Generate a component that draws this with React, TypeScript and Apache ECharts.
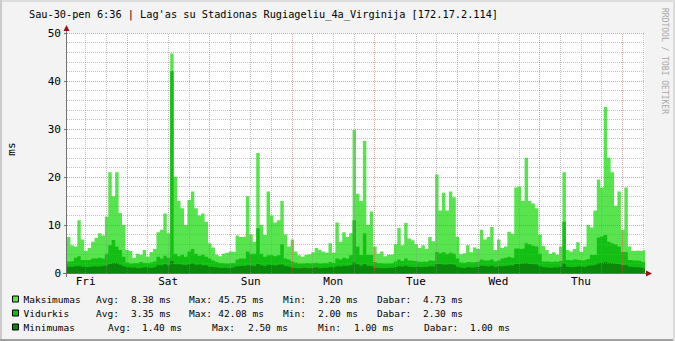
import React, { useEffect, useRef } from "react";
import * as echarts from "echarts";

const TITLE = "Sau-30-pen 6:36 | Lag'as su Stadionas Rugiageliu_4a_Virginija [172.17.2.114]";
const WATERMARK = "RRDTOOL / TOBI OETIKER";
const Y_UNIT = "ms";

// time axis: hours after the first Friday 00:00
const START_HOUR = 6.6;
const STEP_HOURS = 1;
const END_HOUR = 174.6;
const DAY_LABELS = ["Fri", "Sat", "Sun", "Mon", "Tue", "Wed", "Thu"];
const DAY_LABEL_HOURS = [12, 36, 60, 84, 108, 132, 156];
const Y_MAX = 50;
const Y_MAJOR = 10;
const Y_MINOR = 2;

// hourly values (ms)
const maxValues = [
  7.5, 5.8, 5.5, 11, 7, 4.6, 5.2, 6.5, 7.3, 8.3, 7.8, 11.7,
  21, 16, 21, 12.5, 10, 4.8, 4.6, 3.2, 4, 3.8, 4.8, 3.4,
  4.4, 5, 8.5, 9, 12.4, 8.3, 45.75, 20, 15, 13.5, 10, 15.2,
  17, 13.5, 12, 12.4, 10.7, 6.2, 5.3, 3.8, 3.5, 4, 4.2, 4.5,
  4.4, 7.8, 7.5, 7.6, 16, 8, 6.5, 25, 10, 7.9, 17, 12,
  10.5, 11, 15, 8, 5.5, 7, 4.5, 3.7, 3.4, 3.75, 3.9, 4.3,
  5.2, 4.8, 4.5, 4.2, 6.2, 4.2, 10.5, 6.5, 8.5, 7.5, 8.3, 29.8,
  16.5, 15, 27.5, 10, 12.8, 5.5, 4, 4.5, 3.5, 3.8, 3.9, 6,
  9.4, 5.8, 10.4, 7.2, 6.8, 6, 5.2, 5.8, 5, 7.5, 6.6, 20.5,
  13, 16.7, 13, 17, 15.8, 7.5, 3.9, 4.1, 5.8, 4.3, 5.3, 5,
  9, 7, 7.5, 9.6, 4.8, 7, 5.2, 5.5, 8.6, 8.2, 17.8, 18,
  15, 24, 15, 14.5, 13.5, 8, 5.6, 4.8, 4, 4.3, 3.8, 5.5,
  21, 4.8, 4.5, 5, 6.4, 4.4, 5.5, 10, 9.5, 13, 19.5, 17.8,
  34.6, 24, 21, 14, 17, 9, 17.8, 5.5, 4.6, 4.7, 4.6, 4.73,
];

const avgValues = [
  2.4, 2.5, 3.2, 3.5, 2.7, 2.7, 2.7, 3, 3, 3.2, 3, 4,
  5.8, 6.9, 5.5, 4.8, 3.4, 2.2, 2.0, 2.1, 2.0, 2.3, 2.1, 2.0,
  2.2, 2.4, 3.4, 3.0, 3.6, 3.2, 42.08, 4, 3.5, 3.8, 3.4, 4.5,
  5, 4, 3.6, 3.8, 3.4, 3.0, 2.6, 2.3, 2.1, 2.0, 2.0, 2.1,
  2.0, 2.8, 3, 3, 4.5, 4, 4, 9.3, 4, 3.4, 3.7, 3.7,
  3.5, 3.7, 6, 3, 2.8, 2.4, 2.2, 2.0, 2.0, 2.1, 2.0, 2.1,
  2.2, 2.0, 2.1, 2.0, 2.3, 2.1, 3, 2.8, 3.2, 3, 3.7, 11,
  5.5, 3.75, 8.3, 3.75, 3.75, 2.3, 2.1, 2.0, 2.0, 2.0, 2.1, 2.4,
  2.8, 2.5, 3, 2.6, 2.5, 2.4, 2.3, 2.4, 2.3, 2.6, 2.5, 4.4,
  4.1, 4.3, 4, 4.2, 4, 3.0, 2.2, 2.1, 2.3, 2.2, 2.3, 2.4,
  2.8, 2.6, 2.6, 2.8, 2.4, 2.6, 3, 3.2, 3.4, 3.2, 5.1, 5,
  5.1, 6.2, 6, 5.7, 5.5, 4, 2.4, 2.4, 2.3, 2.4, 2.3, 2.5,
  10.7, 2.7, 2.6, 2.8, 2.7, 2.6, 2.7, 2.9, 3.75, 3.8, 7.4, 7.6,
  7.9, 6.5, 6.2, 6, 5.5, 4.4, 4.4, 2.7, 2.6, 2.6, 2.5, 2.3,
];

const minValues = [
  1.3, 1.2, 1.4, 1.5, 1.3, 1.2, 1.3, 1.4, 1.3, 1.4, 1.5, 1.6,
  1.9, 2.1, 2.0, 1.7, 1.4, 1.2, 1.1, 1.2, 1.0, 1.1, 1.2, 1.1,
  1.0, 1.2, 1.6, 1.5, 1.8, 1.6, 2.5, 1.8, 1.9, 1.7, 1.6, 1.8,
  2.0, 1.7, 1.8, 1.6, 1.5, 1.3, 1.2, 1.1, 1.0, 1.1, 1.0, 1.1,
  1.2, 1.4, 1.5, 1.4, 1.6, 1.5, 1.4, 1.9, 1.6, 1.4, 1.7, 1.6,
  1.5, 1.7, 1.8, 1.4, 1.3, 1.1, 1.0, 1.0, 1.1, 1.0, 1.0, 1.1,
  1.2, 1.0, 1.1, 1.0, 1.2, 1.1, 1.4, 1.3, 1.5, 1.4, 1.6, 2.2,
  1.8, 1.5, 1.9, 1.5, 1.4, 1.1, 1.0, 1.0, 1.0, 1.1, 1.0, 1.2,
  1.4, 1.3, 1.5, 1.3, 1.2, 1.3, 1.2, 1.3, 1.2, 1.4, 1.3, 1.9,
  1.8, 1.7, 1.8, 1.9, 1.7, 1.3, 1.1, 1.0, 1.2, 1.1, 1.2, 1.3,
  1.5, 1.4, 1.3, 1.5, 1.2, 1.4, 1.4, 1.5, 1.6, 1.5, 1.9, 1.8,
  2.0, 2.1, 1.9, 1.8, 1.7, 1.4, 1.2, 1.1, 1.1, 1.2, 1.1, 1.3,
  2.0, 1.3, 1.2, 1.3, 1.4, 1.3, 1.2, 1.5, 1.6, 1.7, 2.1, 2.2,
  2.3, 2.1, 2.0, 1.9, 1.8, 1.6, 1.7, 1.3, 1.2, 1.2, 1.1, 1.0,
];

const seriesNames = ["Maksimumas", "Vidurkis", "Minimumas"];
const seriesColors = ["#58e44e", "#14bf14", "#0b870b"];
const statAvg = [8.38, 3.35, 1.4];
const statMax = [45.75, 42.08, 2.5];
const statMin = [3.2, 2.0, 1.0];
const statCur = [4.73, 2.3, 1.0];

const MONO = "DejaVu Sans Mono";

function toPoints(values: number[]) {
  const pts = values.map((v, i) => [START_HOUR + i * STEP_HOURS, v]);
  pts.push([START_HOUR + values.length * STEP_HOURS, values[values.length - 1]]);
  return pts;
}

function txt(x: number, y: number, text: string, size: number, align = "left", fill = "#000", extra: any = {}) {
  return {
    type: "text",
    x,
    y,
    silent: true,
    ...extra,
    style: {
      text,
      fill,
      fontFamily: MONO,
      fontSize: size,
      align,
      verticalAlign: "middle",
      textAlign: align,
      textVerticalAlign: "middle",
    },
  };
}

export default function App() {
  const ref = useRef<HTMLDivElement>(null);

  useEffect(() => {
    if (!ref.current) return;
    const chart = echarts.init(ref.current, undefined, { renderer: "svg" });

    const majorColor = "rgba(200,90,90,0.55)";
    const minorColor = "rgba(140,140,140,0.55)";
    const gridLines: any[] = [];
    for (let h = 12; h < END_HOUR; h += 6) {
      gridLines.push({ xAxis: h, lineStyle: { color: h % 24 === 0 ? majorColor : minorColor, type: [1, 1], width: 1 } });
    }
    for (let v = Y_MINOR; v <= Y_MAX; v += Y_MINOR) {
      gridLines.push({ yAxis: v, lineStyle: { color: v % Y_MAJOR === 0 ? majorColor : minorColor, type: [1, 1], width: 1 } });
    }

    const dataSets = [maxValues, avgValues, minValues];
    const series: any[] = dataSets.map((vals, idx) => ({
      type: "line",
      name: seriesNames[idx],
      data: toPoints(vals),
      step: "end",
      symbol: "none",
      lineStyle: { width: 0, color: seriesColors[idx] },
      areaStyle: { color: seriesColors[idx], opacity: 1 },
      silent: true,
      z: 2 + idx,
      ...(idx === 2
        ? {
            markLine: {
              silent: true,
              symbol: ["none", "none"],
              label: { show: false },
              animation: false,
              data: gridLines,
            },
          }
        : {}),
    }));

    const graphic: any[] = [];
    // frame
    graphic.push({ type: "rect", shape: { x: 0, y: 0, width: 675, height: 2 }, style: { fill: "#dcdcdc" }, silent: true });
    graphic.push({ type: "rect", shape: { x: 0, y: 0, width: 2, height: 341 }, style: { fill: "#cbcbcb" }, silent: true });
    graphic.push({ type: "rect", shape: { x: 0, y: 339, width: 675, height: 2 }, style: { fill: "#a0a0a0" }, silent: true });
    graphic.push({ type: "rect", shape: { x: 673, y: 0, width: 2, height: 341 }, style: { fill: "#dcdcdc" }, silent: true });
    // title
    graphic.push(txt(29, 14, TITLE, 10.25));
    // watermark
    graphic.push(txt(664, 61, WATERMARK, 8, "center", "#a8a8a8", { rotation: -Math.PI / 2 }));
    // unit
    graphic.push(txt(11, 149, Y_UNIT, 11, "center", "#000", { rotation: Math.PI / 2 }));
    // axes
    graphic.push({ type: "line", shape: { x1: 66.5, y1: 29, x2: 66.5, y2: 277 }, style: { stroke: "#707070", lineWidth: 1 }, silent: true });
    graphic.push({ type: "line", shape: { x1: 63, y1: 273.5, x2: 648, y2: 273.5 }, style: { stroke: "#707070", lineWidth: 1 }, silent: true });
    graphic.push({ type: "polygon", shape: { points: [[66.5, 25], [63.5, 31], [69.5, 31]] }, style: { fill: "#9a1010" }, silent: true });
    graphic.push({ type: "polygon", shape: { points: [[652, 273.5], [646, 270.5], [646, 276.5]] }, style: { fill: "#9a1010" }, silent: true });

    // legend
    const rowY = [299.5, 313.5, 327.5];
    const colsA = { avgL: 96, avgV: 171, maxL: 189, maxV: 264, minL: 283, minV: 358, curL: 377, curV: 463 };
    const colsB = { avgL: 108, avgV: 182, maxL: 212, maxV: 288, minL: 318, minV: 394, curL: 424, curV: 510 };
    const LF = 9.5;
    seriesNames.forEach((name, i) => {
      const y = rowY[i];
      const c = i < 2 ? colsA : colsB;
      graphic.push({
        type: "rect",
        shape: { x: 12.5, y: y - 3.5, width: 6, height: 6 },
        style: { fill: seriesColors[i], stroke: "#000", lineWidth: 1 },
        silent: true,
      });
      graphic.push(txt(23.5, y, name, LF));
      graphic.push(txt(c.avgL, y, "Avg:", LF));
      graphic.push(txt(c.avgV, y, statAvg[i].toFixed(2) + " ms", LF, "right"));
      graphic.push(txt(c.maxL, y, "Max:", LF));
      graphic.push(txt(c.maxV, y, statMax[i].toFixed(2) + " ms", LF, "right"));
      graphic.push(txt(c.minL, y, "Min:", LF));
      graphic.push(txt(c.minV, y, statMin[i].toFixed(2) + " ms", LF, "right"));
      graphic.push(txt(c.curL, y, "Dabar:", LF));
      graphic.push(txt(c.curV, y, statCur[i].toFixed(2) + " ms", LF, "right"));
    });

    chart.setOption({
      animation: false,
      backgroundColor: "#f3f3f3",
      grid: {
        left: 67,
        right: 30,
        top: 33,
        bottom: 68,
        show: true,
        backgroundColor: "#ffffff",
        borderWidth: 0,
      },
      xAxis: {
        type: "value",
        min: START_HOUR,
        max: END_HOUR,
        axisLine: { show: false },
        axisTick: { show: false },
        splitLine: { show: false },
        axisLabel: {
          customValues: DAY_LABEL_HOURS,
          formatter: (v: number) => {
            const idx = DAY_LABEL_HOURS.indexOf(Math.round(v));
            return idx >= 0 ? DAY_LABELS[idx] : "";
          },
          fontFamily: MONO,
          fontSize: 11,
          color: "#000",
          margin: 3,
        },
      },
      yAxis: {
        type: "value",
        min: 0,
        max: Y_MAX,
        interval: Y_MAJOR,
        axisLine: { show: false },
        axisTick: { show: true, length: 3, lineStyle: { color: "#707070" } },
        splitLine: { show: false },
        axisLabel: {
          fontFamily: MONO,
          fontSize: 11,
          color: "#000",
          margin: 6,
        },
      },
      series,
      graphic,
    });

    return () => chart.dispose();
  }, []);

  return (
    <div
      ref={ref}
      style={{ position: "fixed", left: 0, top: 0, width: 675, height: 341 }}
    />
  );
}
